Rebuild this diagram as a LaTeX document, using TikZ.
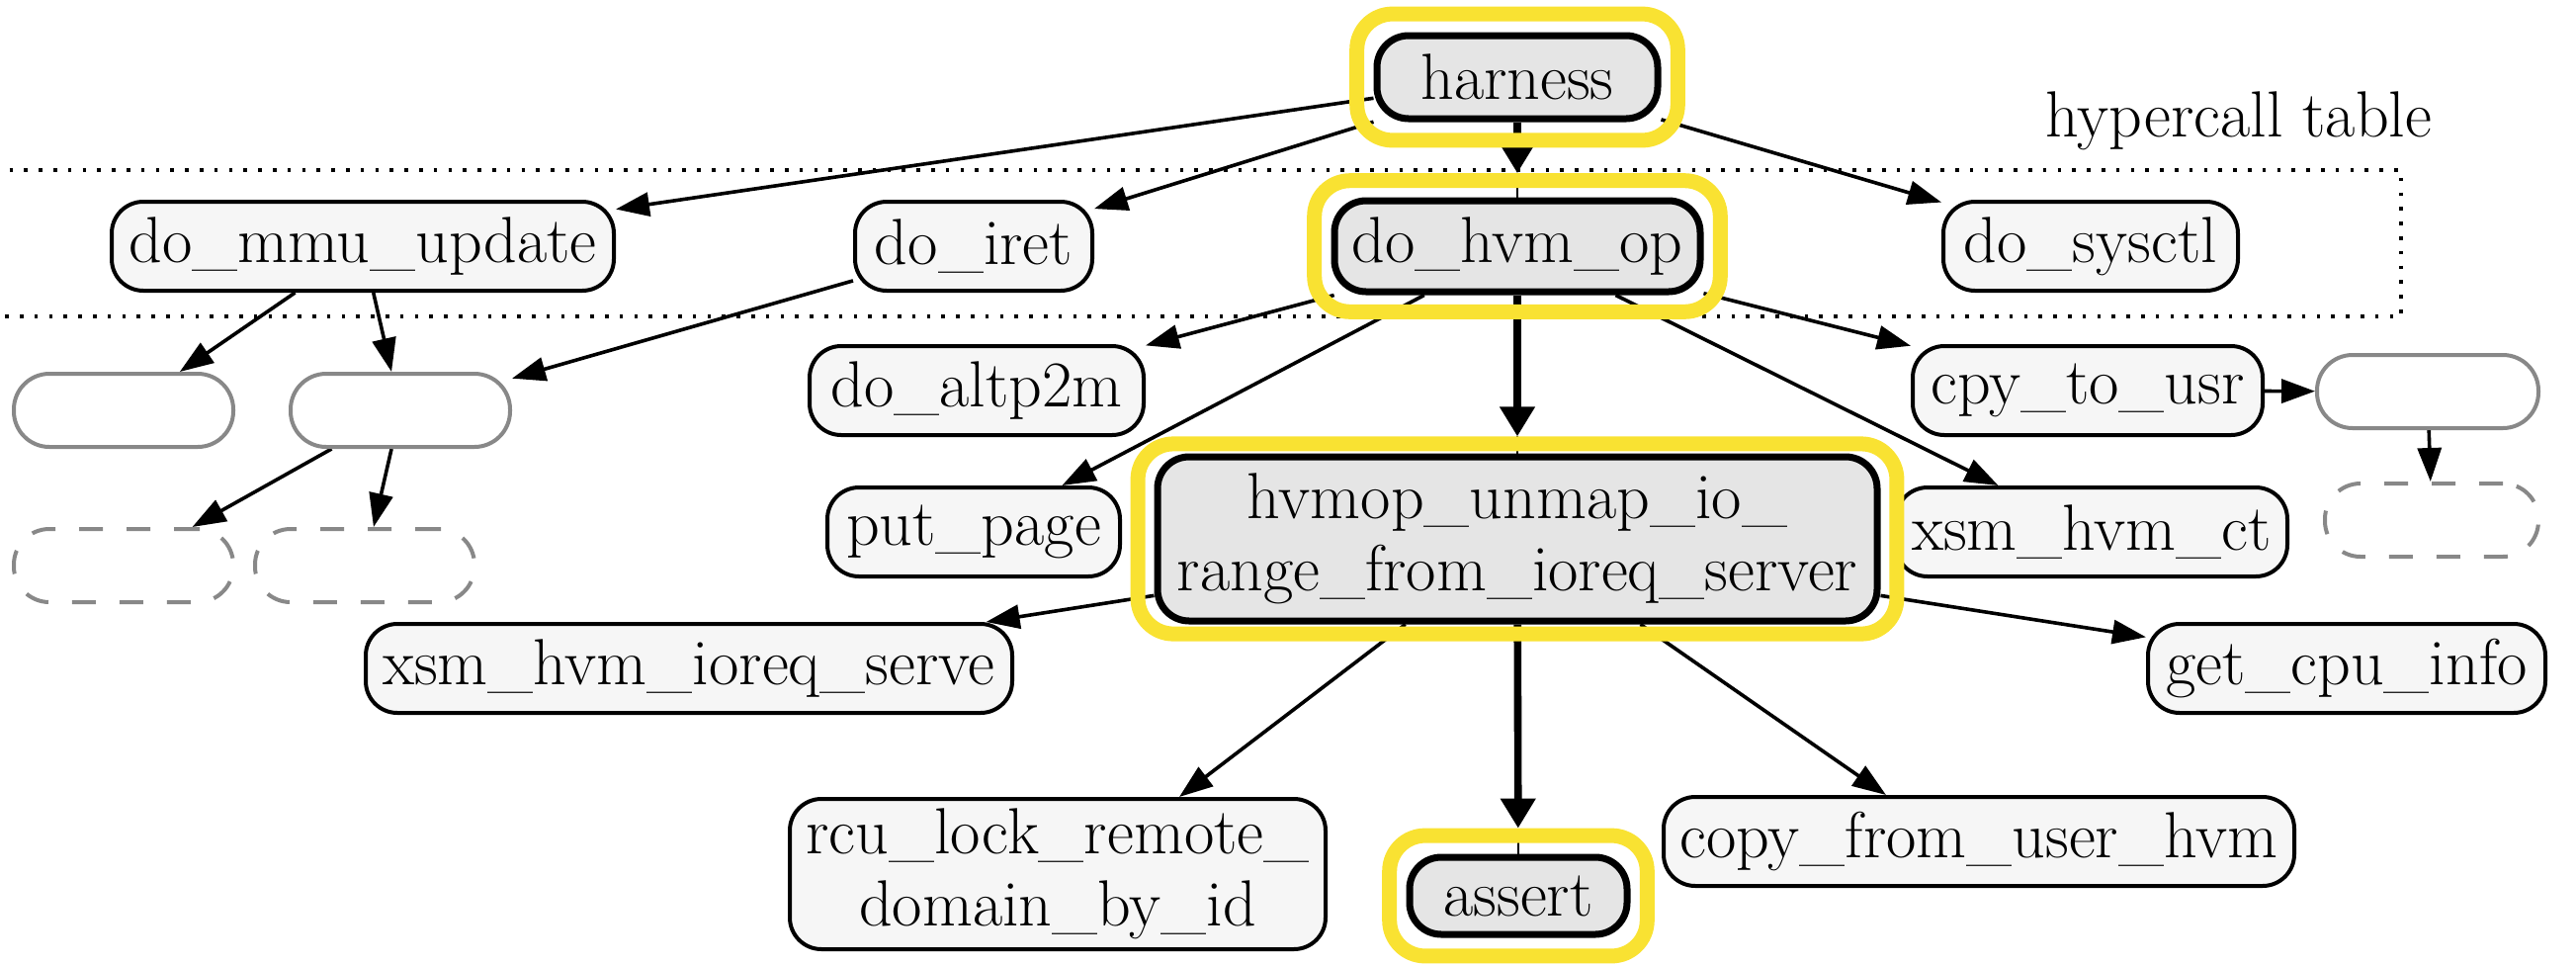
\documentclass[tikz,border=0pt]{standalone}
\usetikzlibrary{arrows.meta,fit,calc}
\definecolor{hlyellow}{RGB}{249,226,50}
\definecolor{nfill}{RGB}{246,246,246}
\definecolor{hfill}{RGB}{229,229,229}
\definecolor{ggray}{RGB}{136,136,136}
\pgfdeclarelayer{bg}
\pgfsetlayers{bg,main}
\newsavebox\usbox
\AtBeginDocument{%
  \sbox\usbox{\fontsize{16.5}{18.3}\selectfont\_}%
  \ifdim\wd\usbox>0.5pt
    \pgfmathsetmacro\usfac{11.5/\the\wd\usbox}%
  \else
    \def\usfac{1.4}%
  \fi}
\newcommand\us{\scalebox{\usfac}[1]{\_}}
\begin{document}
\begin{tikzpicture}[x=0.25pt,y=-0.25pt,
  fn/.style={font=\fontsize{16.5}{18.3}\selectfont},
  box/.style={draw=black, line width=1pt, fill=nfill, rounded corners=8pt,
    minimum height=22.5pt, inner sep=0pt, align=center, fn},
  hbox/.style={box, line width=1.75pt, fill=hfill},
  gbox/.style={draw=ggray, line width=1pt, fill=white, rounded corners=9pt,
    minimum width=55.5pt, minimum height=18.5pt, inner sep=0pt},
  dbox/.style={gbox, dash pattern=on 6pt off 6pt},
  ring/.style={draw=hlyellow, line width=3.75pt, rounded corners=9pt, inner sep=4.2pt},
  edge/.style={line width=0.9pt, -{Triangle[length=8.5pt,width=6pt]}},
  tedge/.style={line width=1.9pt, -{Triangle[length=7.5pt,width=8.5pt]}},
  cont/.style={line width=0.6pt},
  frame/.style={line width=1.2pt, dash pattern=on 0.9pt off 2.8pt}
]
\useasboundingbox (0,0) rectangle (2606,976);

% nodes
\node[hbox, minimum width=71pt, minimum height=21pt] (harness) at (1535,78) {harness};
\node[box, minimum width=127pt] (dmmu) at (367,249) {do\us mmu\us update};
\node[box, minimum width=60pt] (diret) at (985,249) {do\us iret};
\node[hbox, minimum width=92.5pt, minimum height=23pt] (dhvm) at (1535,249) {do\us hvm\us op};
\node[box, minimum width=74.5pt] (dsys) at (2115,249) {do\us sysctl};
\node[gbox] (g1) at (125,415) {};
\node[gbox] (g2) at (405,415) {};
\node[dbox] (d1) at (125,572) {};
\node[dbox] (d2) at (369,572) {};
\node[box, minimum width=84.5pt] (altp) at (988,395) {do\us altp2m};
\node[box, minimum width=88.5pt] (cpy) at (2112,395) {cpy\us to\us usr};
\node[gbox, minimum width=56pt] (gR) at (2456,396) {};
\node[dbox, minimum width=54pt] (dR) at (2460,526) {};
\node[box, minimum width=74pt] (putp) at (985,538) {put\us page};
\node[box, minimum width=99pt] (xct) at (2116,538) {xsm\us hvm\us ct};
\node[hbox, minimum width=182pt, minimum height=41.5pt] (hvm) at (1535,545)
  {hvmop\us unmap\us io\us\\range\us from\us ioreq\us server};
\node[box, minimum width=163.5pt] (xio) at (697,676) {xsm\us hvm\us ioreq\us serve};
\node[box, minimum width=100.5pt] (gci) at (2374,676) {get\us cpu\us info};
\node[box, minimum width=135.5pt, minimum height=38pt] (rcu) at (1070,884)
  {rcu\us lock\us remote\us\\domain\us by\us id};
\node[hbox, minimum width=55pt, minimum height=19.5pt] (asrt) at (1536,906) {assert};
\node[box, minimum width=159.5pt] (cfu) at (2002,851) {copy\us from\us user\us hvm};
\node[fn] (lbl) at (2265,122) {hypercall table};

% highlight rings
\node[ring, fit=(harness), inner ysep=4.6pt] (harnessR) {};
\node[ring, fit=(dhvm)] (dhvmR) {};
\node[ring, fit=(hvm), inner xsep=4.1pt, inner ysep=2.4pt] (hvmR) {};
\node[ring, fit=(asrt), inner ysep=4.6pt] (asrtR) {};

\begin{pgfonlayer}{bg}
\draw[frame] (-20,172) -- (2429,172) -- (2429,320) -- (-20,320);
\draw[edge] (harness) -- (dmmu);
\draw[edge] (harness) -- (diret);
\draw[edge] (harness) -- (dsys);
\draw[tedge] (harness) -- (dhvmR);
\draw[cont] (dhvmR.north) -- (dhvm.north);
\draw[edge] (dmmu) -- (g1);
\draw[edge] (dmmu) -- (g2);
\draw[edge] (diret) -- (g2);
\draw[edge] (g2) -- (d1);
\draw[edge] (g2) -- (d2);
\draw[edge] (dhvm) -- (altp);
\draw[edge] (dhvm) -- (putp);
\draw[edge] (dhvm) -- (xct);
\draw[edge] (dhvm) -- (cpy);
\draw[tedge] (dhvm) -- (hvmR);
\draw[cont] (hvmR.north) -- (hvm.north);
\draw[edge] (cpy) -- (gR);
\draw[edge] (gR) -- (dR);
\draw[edge] (hvm) -- (xio);
\draw[edge] (hvm) -- (gci);
\draw[edge] (hvm) -- ($(rcu.north)+(123,0)$);
\draw[edge] (hvm) -- ($(cfu.north)+(-94,0)$);
\draw[tedge] (hvm) -- (asrtR);
\draw[cont] (asrtR.north) -- (asrt.north);
\end{pgfonlayer}
\end{tikzpicture}
\end{document}
